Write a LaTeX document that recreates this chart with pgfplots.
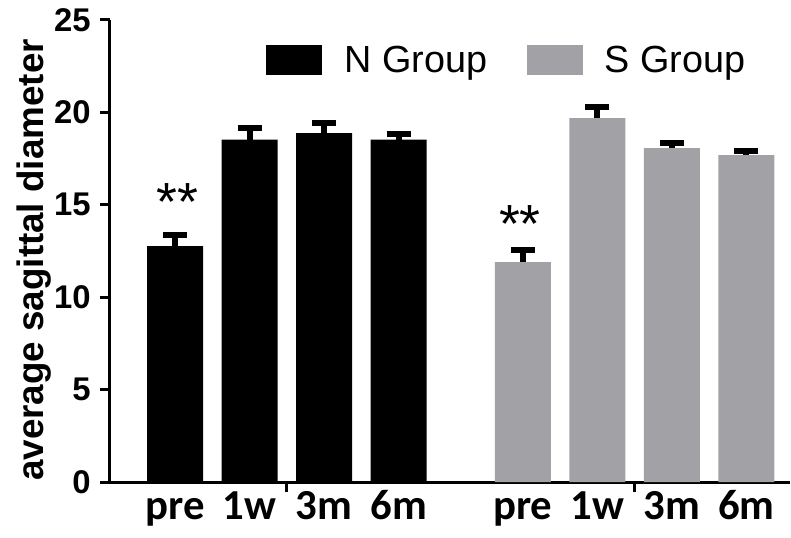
\documentclass[border=0pt]{standalone}
\usepackage{pgfplots}
\pgfplotsset{compat=1.18}
\usepackage{fontspec}
\setmainfont{Liberation Sans}
\newfontfamily\carlito{Carlito}
\definecolor{sgray}{RGB}{161,161,166}
\begin{document}
\begin{tikzpicture}
\begin{axis}[
  name=ax,
  at={(0,0)}, anchor=south west,
  scale only axis, width=681bp, height=463bp,
  xmin=-0.878, xmax=8.25, ymin=0, ymax=25,
  axis x line*=bottom, axis y line*=left,
  axis line style={line width=3bp, black},
  ybar, bar width=56bp,
  ytick={0,5,10,15,20,25},
  minor ytick={0,5,10,15,20,25},
  xtick={0,1,2,3,4.67,5.67,6.67,7.67},
  xticklabels={pre,1w,3m,6m,pre,1w,3m,6m},
  minor xtick={1.5,6.17},
  tick align=outside, major tick length=0bp, minor tick length=10bp,
  tick style={line width=3bp, black},
  /pgf/number format/assume math mode=true,
  yticklabel style={font=\bfseries\fontsize{33}{38}\selectfont, inner sep=0pt, anchor=east, xshift=-19bp},
  xticklabel style={font=\carlito\bfseries\fontsize{43}{50}\selectfont, inner sep=0pt, anchor=base, yshift=-37bp},
  every axis y label/.style={at={(rel axis cs:0,0.5)}, anchor=center, shift={(-76bp,-9bp)}, rotate=90, font=\bfseries\fontsize{37}{44}\selectfont},
  ylabel={average sagittal diameter},
  legend columns=2,
  legend style={draw=none, fill=none, at={(rel axis cs:0.2305,0.9125)}, anchor=west, inner sep=0pt, outer sep=0pt,
    font=\fontsize{38}{45}\selectfont,
    /tikz/every odd column/.style={column sep=22bp},
    /tikz/every even column/.style={column sep=40bp},
    nodes={inner sep=0pt, anchor=base west}},
]
\addplot[fill=black, draw=none, bar shift=0pt,
  legend image code/.code={\fill[black] (0bp,-2.5bp) rectangle (56bp,27.5bp);},
  error bars/.cd, y dir=plus, y explicit,
  error bar style={line width=6bp, black},
  error mark options={rotate=90, line width=6bp, mark size=12bp, black}]
  table[x=x, y=y, y error=e] {
x y e
0 12.76 0.60
1 18.52 0.63
2 18.88 0.54
3 18.52 0.30
};
\addlegendentry{N Group}
\addplot[fill=sgray, draw=none, bar shift=0pt,
  legend image code/.code={\fill[sgray] (0bp,-2.5bp) rectangle (56bp,27.5bp);},
  error bars/.cd, y dir=plus, y explicit,
  error bar style={line width=6bp, black},
  error mark options={rotate=90, line width=6bp, mark size=12bp, black}]
  table[x=x, y=y, y error=e] {
x y e
4.67 11.90 0.67
5.67 19.69 0.61
6.67 18.07 0.27
7.67 17.69 0.20
};
\addlegendentry{S Group}
\node[font=\fontsize{54}{60}\selectfont, anchor=base] at (axis cs:0.027,14.15) {**};
\node[font=\fontsize{54}{60}\selectfont, anchor=base] at (axis cs:4.63,12.95) {**};
\end{axis}
\path ([xshift=-110bp,yshift=-56bp]ax.south west) rectangle ([yshift=20bp]ax.north east);
\end{tikzpicture}
\end{document}
